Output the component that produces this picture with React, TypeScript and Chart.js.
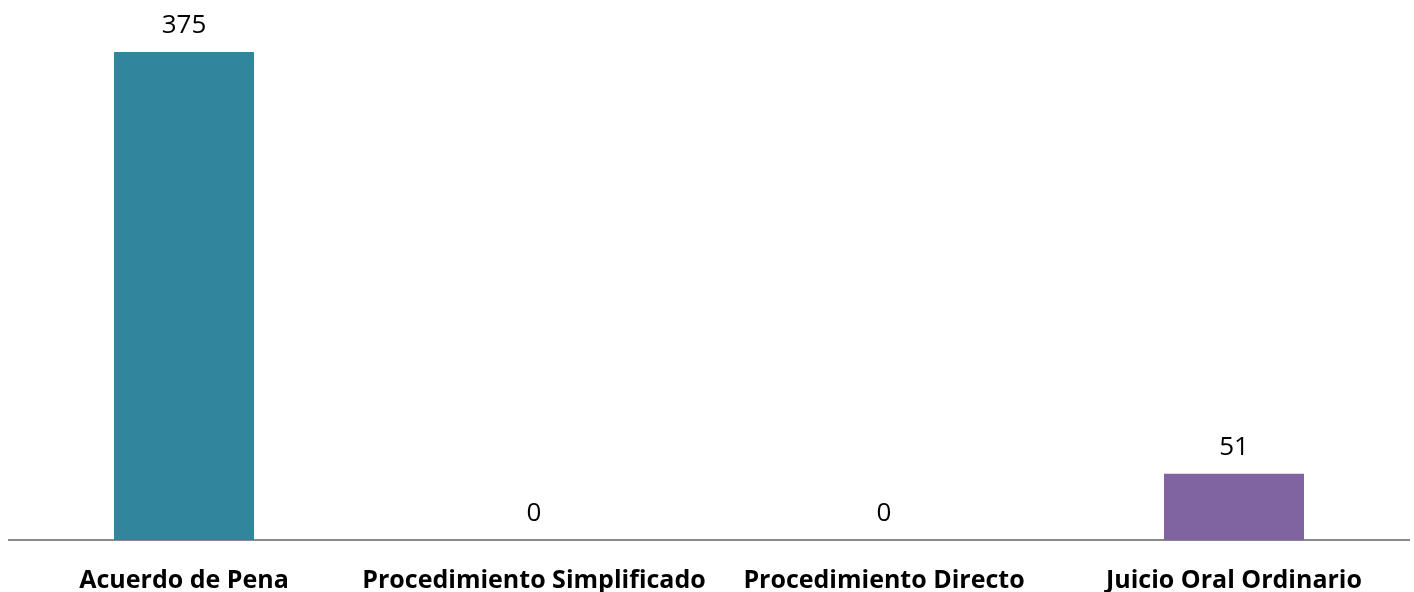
import React, { useEffect, useRef } from "react";
import { Chart, registerables } from "chart.js";

Chart.register(...registerables);

const categories = ["Acuerdo de Pena", "Procedimiento Simplificado", "Procedimiento Directo", "Juicio Oral Ordinario"];
const values = [375, 0, 0, 51];
const barColors = ["#31859C", "#31859C", "#31859C", "#8064A2"];

const valueLabelPlugin = {
  id: "valueLabels",
  afterDatasetsDraw(chart: any) {
    const ctx = chart.ctx;
    const meta = chart.getDatasetMeta(0);
    ctx.save();
    ctx.font = '26px "Open Sans"';
    ctx.fillStyle = "#000000";
    ctx.textAlign = "center";
    ctx.textBaseline = "alphabetic";
    meta.data.forEach((bar: any, i: number) => {
      ctx.fillText(String(values[i]), bar.x, bar.y - 19);
    });
    ctx.restore();
  },
};

export default function App() {
  const ref = useRef<HTMLCanvasElement>(null);
  useEffect(() => {
    if (!ref.current) return;
    const chart = new Chart(ref.current, {
      type: "bar",
      data: {
        labels: categories,
        datasets: [
          {
            data: values,
            backgroundColor: barColors,
            borderWidth: 0,
            barPercentage: 0.4,
            categoryPercentage: 1,
          },
        ],
      },
      options: {
        animation: false,
        responsive: false,
        devicePixelRatio: 1,
        layout: { padding: { top: 52, left: 9, right: 5, bottom: 0 } },
        plugins: { legend: { display: false }, tooltip: { enabled: false } },
        scales: {
          x: {
            grid: { display: false, drawTicks: false },
            border: { display: true, color: "#898989", width: 2 },
            ticks: {
              color: "#000000",
              font: { family: '"Open Sans"', size: 25, weight: "bold" },
              padding: 26,
              maxRotation: 0,
              autoSkip: false,
            },
            afterFit: (scale: any) => {
              scale.height = 52;
            },
          },
          y: {
            display: false,
            min: 0,
            max: 375,
          },
        },
      },
      plugins: [valueLabelPlugin],
    });
    return () => chart.destroy();
  }, []);
  return (
    <div style={{ position: "absolute", left: 0, top: 0, width: 1414, height: 592, background: "#ffffff" }}>
      <canvas ref={ref} width={1414} height={592} />
    </div>
  );
}
